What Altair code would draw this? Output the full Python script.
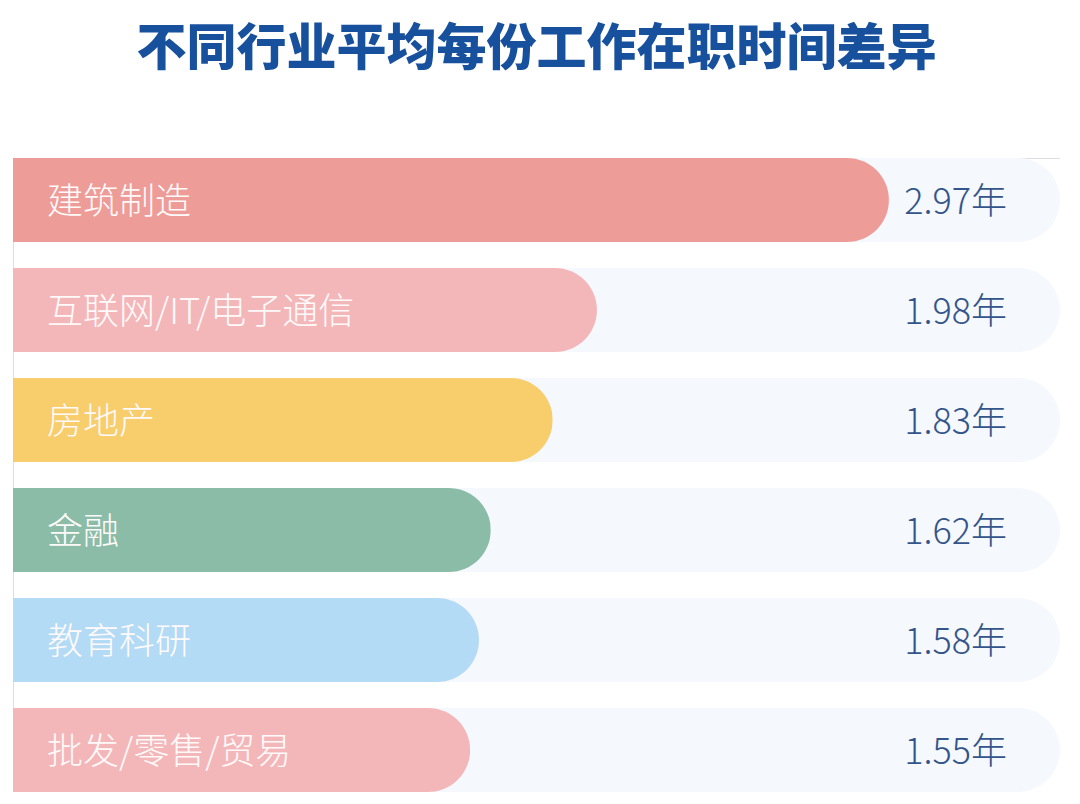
import altair as alt
import pandas as pd

categories = ["建筑制造", "互联网/IT/电子通信", "房地产", "金融", "教育科研", "批发/零售/贸易"]
values = [2.97, 1.98, 1.83, 1.62, 1.58, 1.55]
value_labels = ["2.97年", "1.98年", "1.83年", "1.62年", "1.58年", "1.55年"]
colors = ["#ee9c98", "#f4b7b9", "#f8cd6c", "#8bbca8", "#b3dbf6", "#f4b7b9"]
track_max = 3.55

df = pd.DataFrame({
    "cat": categories,
    "val": values,
    "label": value_labels,
    "color": colors,
    "track": [track_max] * len(categories),
})

W = 1047
H = 634
x_scale = alt.Scale(domain=[0, track_max], range=[0, W], nice=False, zero=True)
y_scale = alt.Scale(domain=categories, paddingInner=26 / 110, paddingOuter=0)

base = alt.Chart(df)
font = "Noto Sans CJK SC"

track = base.mark_bar(color="#f5f8fc", cornerRadiusEnd=42).encode(
    x=alt.X("track:Q", scale=x_scale, axis=None),
    y=alt.Y("cat:N", scale=y_scale, axis=None, sort=categories),
)

bars = base.mark_bar(cornerRadiusEnd=42).encode(
    x=alt.X("val:Q", scale=x_scale, axis=None),
    y=alt.Y("cat:N", scale=y_scale, axis=None, sort=categories),
    color=alt.Color("color:N", scale=None),
)

names = base.mark_text(
    align="left", baseline="middle", dx=34, dy=3, color="#fffafa",
    font=font, fontSize=36, fontWeight=300,
).encode(
    x=alt.value(0),
    y=alt.Y("cat:N", scale=y_scale, axis=None, sort=categories),
    text="cat:N",
)

vals = base.mark_text(
    align="right", baseline="middle", dy=3, color="#34558a",
    font=font, fontSize=36, fontWeight=300,
).encode(
    x=alt.value(994),
    y=alt.Y("cat:N", scale=y_scale, axis=None, sort=categories),
    text="label:N",
)

chart = alt.layer(track, bars, names, vals).properties(
    width=W,
    height=H,
    autosize=alt.AutoSizeParams(type="none"),
    padding={"left": 5, "top": 150, "right": 0, "bottom": 0},
    title=alt.TitleParams(
        "不同行业平均每份工作在职时间差异",
        anchor="middle", frame="group", font=font, fontSize=50, fontWeight=900,
        color="#17509c", offset=33, baseline="bottom",
    ),
).configure_view(stroke="transparent", strokeWidth=0).configure(background="#ffffff")

chart.save("out.html", embed_options={"renderer": "svg", "actions": False})
